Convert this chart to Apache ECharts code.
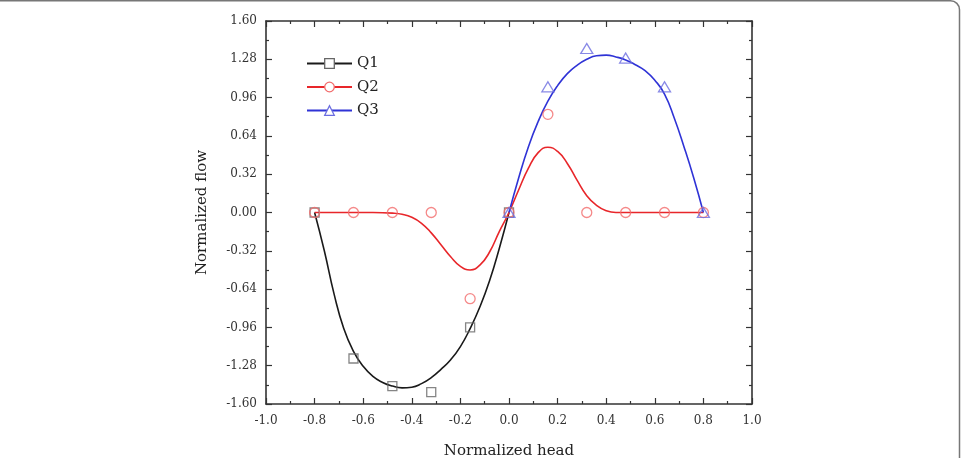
<!DOCTYPE html>
<html>
<head>
<meta charset="utf-8">
<script src="https://cdn.jsdelivr.net/npm/echarts@6/dist/echarts.min.js"></script>
<style>
  html, body { margin: 0; padding: 0; background: #fff; }
  #main { width: 961px; height: 458px; }
</style>
</head>
<body>
<div id="main"></div>
<script>
// measured points
var q1X = [-0.8, -0.64, -0.48, -0.32, -0.16, 0];
var q1Y = [0, -1.22, -1.45, -1.50, -0.96, 0];
var q2X = [-0.8, -0.64, -0.48, -0.32, -0.16, 0, 0.16, 0.32, 0.48, 0.64, 0.8];
var q2Y = [0, 0, 0, 0, -0.72, 0, 0.82, 0, 0, 0, 0];
var q3X = [0, 0.16, 0.32, 0.48, 0.64, 0.8];
var q3Y = [0, 1.05, 1.37, 1.29, 1.05, 0];

// fitted curves
var fit1X = [-0.8, -0.76, -0.72, -0.68, -0.64, -0.6, -0.56, -0.52, -0.48, -0.44, -0.4,
             -0.36, -0.32, -0.28, -0.24, -0.2, -0.16, -0.12, -0.08, -0.04, 0];
var fit1Y = [0, -0.32, -0.68, -0.97, -1.16, -1.285, -1.37, -1.42, -1.45, -1.465, -1.46,
             -1.43, -1.38, -1.31, -1.23, -1.12, -0.97, -0.79, -0.57, -0.30, 0];
var fit2X = [-0.8, -0.72, -0.64, -0.56, -0.48, -0.44, -0.4, -0.36, -0.32, -0.28, -0.24, -0.2,
             -0.16, -0.12, -0.08, -0.04, 0, 0.04, 0.08, 0.12, 0.16, 0.2, 0.24, 0.28, 0.32,
             0.36, 0.4, 0.44, 0.48, 0.56, 0.64, 0.72, 0.8];
var fit2Y = [0, 0, 0, 0, -0.005, -0.015, -0.04, -0.09, -0.17, -0.27, -0.37, -0.45,
             -0.48, -0.44, -0.33, -0.16, 0, 0.19, 0.37, 0.50, 0.545, 0.51, 0.41, 0.27, 0.14,
             0.06, 0.015, 0, 0, 0, 0, 0, 0];
var fit3X = [0, 0.04, 0.08, 0.12, 0.16, 0.2, 0.24, 0.28, 0.32, 0.36, 0.4, 0.44, 0.48,
             0.52, 0.56, 0.6, 0.64, 0.68, 0.72, 0.76, 0.8];
var fit3Y = [0, 0.29, 0.55, 0.76, 0.93, 1.06, 1.16, 1.23, 1.28, 1.31, 1.315, 1.30, 1.275,
             1.235, 1.185, 1.105, 0.99, 0.79, 0.55, 0.29, 0];

var seriesNames = ['Q1', 'Q2', 'Q3'];
var lineColors = ['#1a1a1a', '#e8262a', '#2f33d6'];
var markColors = ['#666666', '#f26b6b', '#6b6de0'];

function pairs(xs, ys) {
    return xs.map(function (x, i) { return [x, ys[i]]; });
}

var font = 'DejaVu Serif';
var myChart = echarts.init(document.getElementById('main'));

var xBase = {
    type: 'value', min: -1, max: 1, interval: 0.2,
    axisLine: { show: true, onZero: false, lineStyle: { color: '#333', width: 1.6 } },
    axisTick: { show: true, inside: true, length: 6, lineStyle: { color: '#333', width: 1.2 } },
    minorTick: { show: true, splitNumber: 2, length: 3, lineStyle: { color: '#333', width: 1.2 } },
    splitLine: { show: false }
};
var yBase = {
    type: 'value', min: -1.6, max: 1.6, interval: 0.32,
    axisLine: { show: true, onZero: false, lineStyle: { color: '#333', width: 1.6 } },
    axisTick: { show: true, inside: true, length: 6, lineStyle: { color: '#333', width: 1.2 } },
    minorTick: { show: true, splitNumber: 2, length: 3, lineStyle: { color: '#333', width: 1.2 } },
    splitLine: { show: false }
};

var fits = [[fit1X, fit1Y], [fit2X, fit2Y], [fit3X, fit3Y]];
var pts = [[q1X, q1Y], [q2X, q2Y], [q3X, q3Y]];
var markSymbols = ['rect', 'circle', 'triangle'];
var markSizes = [[9, 9], [10, 10], [12, 10]];

var series = [];
fits.forEach(function (f, i) {
    series.push({
        name: seriesNames[i], type: 'line', data: pairs(f[0], f[1]),
        smooth: 0.5, showSymbol: false, symbol: markSymbols[i],
        lineStyle: { color: lineColors[i], width: 1.6 },
        itemStyle: { color: lineColors[i] },
        silent: true, z: 2
    });
});
pts.forEach(function (p, i) {
    series.push({
        name: seriesNames[i], type: 'scatter', data: pairs(p[0], p[1]),
        symbol: markSymbols[i], symbolSize: markSizes[i],
        itemStyle: { color: 'rgba(255,255,255,0)', borderColor: markColors[i], borderWidth: 1.3 },
        z: 3
    });
});

myChart.setOption({
    animation: false,
    grid: { left: 266, right: 209, top: 21, bottom: 54, outerBoundsMode: 'none' },
    legend: {
        orient: 'vertical', left: 306, top: 56, padding: 0,
        itemWidth: 45, itemHeight: 12, itemGap: 8.5,
        data: seriesNames.map(function (n, i) {
            return { name: n, itemStyle: { color: '#fff', borderColor: markColors[i], borderWidth: 1.3 } };
        }),
        textStyle: { fontFamily: font, fontSize: 15, color: '#222' }
    },
    xAxis: [
        Object.assign({}, xBase, {
            position: 'bottom',
            name: 'Normalized head', nameLocation: 'middle', nameGap: 40,
            nameTextStyle: { fontFamily: font, fontSize: 15, color: '#222' },
            axisLabel: {
                margin: 11, fontFamily: font, fontSize: 12, color: '#333',
                formatter: function (v) { return Math.abs(v) < 1e-9 ? '0.0' : v.toFixed(1); }
            }
        }),
        Object.assign({}, xBase, { position: 'top', axisLabel: { show: false } })
    ],
    yAxis: [
        Object.assign({}, yBase, {
            position: 'left',
            name: 'Normalized flow', nameLocation: 'middle', nameGap: 56,
            nameTextStyle: { fontFamily: font, fontSize: 15, color: '#222' },
            axisLabel: {
                margin: 9, fontFamily: font, fontSize: 12, color: '#333',
                formatter: function (v) { return Math.abs(v) < 1e-9 ? '0.00' : v.toFixed(2); }
            }
        }),
        Object.assign({}, yBase, { position: 'right', axisLabel: { show: false } })
    ],
    graphic: [{
        type: 'rect', silent: true, z: -10,
        shape: { x: -10, y: 0.75, width: 969.5, height: 520, r: 9 },
        style: { fill: 'none', stroke: '#777', lineWidth: 1.5 }
    }],
    series: series
});

window.addEventListener('resize', function () {
    myChart.resize();
});
</script>
</body>
</html>
